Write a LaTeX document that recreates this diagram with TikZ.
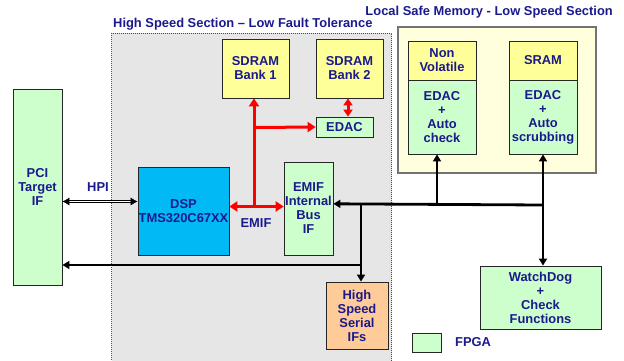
\documentclass[tikz,border=0pt]{standalone}
\usepackage{fontspec}
\setmainfont{Liberation Sans}
\usetikzlibrary{arrows.meta}
\definecolor{txtblue}{RGB}{26,26,140}
\definecolor{fpgagreen}{RGB}{204,255,204}
\definecolor{memyellow}{RGB}{255,255,153}
\definecolor{paleyellow}{RGB}{255,255,221}
\definecolor{dspblue}{RGB}{0,185,245}
\definecolor{serialorange}{RGB}{255,204,153}
\definecolor{sectiongray}{RGB}{230,230,230}
\definecolor{busred}{RGB}{255,0,0}
\tikzset{
  lbl/.style={text=txtblue, font=\bfseries\fontsize{12.9}{14}\selectfont, align=center, inner sep=0pt},
  blk/.style={lbl, draw=black!85, line width=0.8pt, rectangle},
  fpga/.style={blk, fill=fpgagreen},
  mem/.style={blk, fill=memyellow},
  redbus/.style={draw=busred, line width=3pt},
  blackbus/.style={draw=black, line width=2.8pt}
}
\begin{document}
\begin{tikzpicture}[x=1pt,y=-1pt]
\useasboundingbox (0,0) rectangle (624,360);

% high speed section backdrop
\fill[sectiongray] (111.5,33) rectangle (391.5,362);
\draw[black!70, line width=0.5pt, dash pattern=on 1pt off 1pt] (111.5,362) -- (111.5,33) -- (391.5,33) -- (391.5,362);
\node[lbl, anchor=west] (hstitle) at (113,24) {High Speed Section -- Low Fault Tolerance};

% local safe memory section
\node[draw=black!55, line width=1.3pt, fill=paleyellow, minimum width=198pt, minimum height=146pt, inner sep=0pt] (lsm) at (497,100) {};
\node[lbl, anchor=east] (lsmtitle) at (613,12.5) {Local Safe Memory - Low Speed Section};

\node[mem, minimum width=68pt, minimum height=39pt] (nvtop) at (442,60.5) {Non\\Volatile};
\node[fpga, minimum width=68pt, minimum height=74pt] (nvbot) at (442,117) {EDAC\\+\\Auto\\check};
\node[mem, minimum width=68pt, minimum height=39pt] (sramtop) at (543,60.5) {SRAM};
\node[fpga, minimum width=68pt, minimum height=74pt] (srambot) at (543,117) {EDAC\\+\\Auto\\scrubbing};

% blocks of the high speed section
\node[mem, minimum width=67pt, minimum height=59pt] (sdram1) at (255.5,68.5) {SDRAM\\Bank 1};
\node[mem, minimum width=67pt, minimum height=59pt] (sdram2) at (349.5,68.5) {SDRAM\\Bank 2};
\node[fpga, minimum width=57pt, minimum height=20pt] (edac) at (344.5,127) {EDAC};
\node[blk, fill=dspblue, minimum width=91pt, minimum height=88pt] (dsp) at (183.5,211) {DSP\\TMS320C67XX};
\node[fpga, minimum width=49pt, minimum height=93pt] (emif) at (308.5,208.5) {EMIF\\Internal\\Bus\\IF};
\node[blk, fill=serialorange, minimum width=62pt, minimum height=67pt] (hss) at (357,315.5) {High\\Speed\\Serial\\IFs};

% outside blocks
\node[fpga, minimum width=49pt, minimum height=196pt] (pci) at (37.5,187) {PCI\\Target\\IF};
\node[fpga, minimum width=121pt, minimum height=63pt] (wd) at (540.5,297.5) {WatchDog\\+\\Check\\Functions};

% legend
\node[fpga, minimum width=29pt, minimum height=19pt] (legend) at (426.5,342.5) {};
\node[lbl, anchor=west] (legendtxt) at (455,342.5) {FPGA};

% EMIF bus (red)
\coordinate (emifjoin) at (254,206.5);
\coordinate (edacjoin) at (254,127.5);
\draw[redbus, {Triangle[length=8pt,width=10pt]}-{Triangle[length=8pt,width=10pt]}] (dsp.east |- emifjoin) -- (emif.west |- emifjoin);
\draw[redbus, -{Triangle[length=8pt,width=10pt]}] (emifjoin) -- (emifjoin |- sdram1.south);
\draw[redbus, -{Triangle[length=8pt,width=10pt]}] (edacjoin) -- (edac.west);
\draw[redbus, {Triangle[length=7pt,width=9pt]}-{Triangle[length=7pt,width=9pt]}] (sdram2.south -| 348,0) -- (edac.north -| 348,0);
\node[lbl] (emiflbl) at (256,223) {EMIF};

% HPI link
\coordinate (hpiy) at (0,201.5);
\draw[black, line width=0.6pt, double=white, double distance=1.6pt, {Latex[length=7pt,width=8pt]}-{Latex[length=7pt,width=8pt]}] (pci.east |- hpiy) -- (dsp.west |- hpiy);
\node[lbl] (hpilbl) at (98,187) {HPI};

% internal bus (black)
\coordinate (busR) at (543,205);
\coordinate (busNV) at (437,204.2);
\coordinate (busHS) at (361,204);
\coordinate (pciy) at (361,265);
\draw[blackbus, -{Triangle[length=7pt,width=8pt]}] (busR) -- (emif.east |- 0,203.8);
\draw[blackbus, -{Triangle[length=7pt,width=8pt]}] (busNV) -- (busNV |- nvbot.south);
\draw[blackbus, {Triangle[length=7pt,width=8pt]}-{Triangle[length=7pt,width=8pt]}] (srambot.south -| busR) -- (wd.north -| busR);
\draw[blackbus, -{Triangle[length=7pt,width=8pt]}] (busHS) -- (busHS |- hss.north);
\draw[blackbus, -{Triangle[length=7pt,width=8pt]}] (pciy) -- (pci.east |- pciy);
\end{tikzpicture}
\end{document}
